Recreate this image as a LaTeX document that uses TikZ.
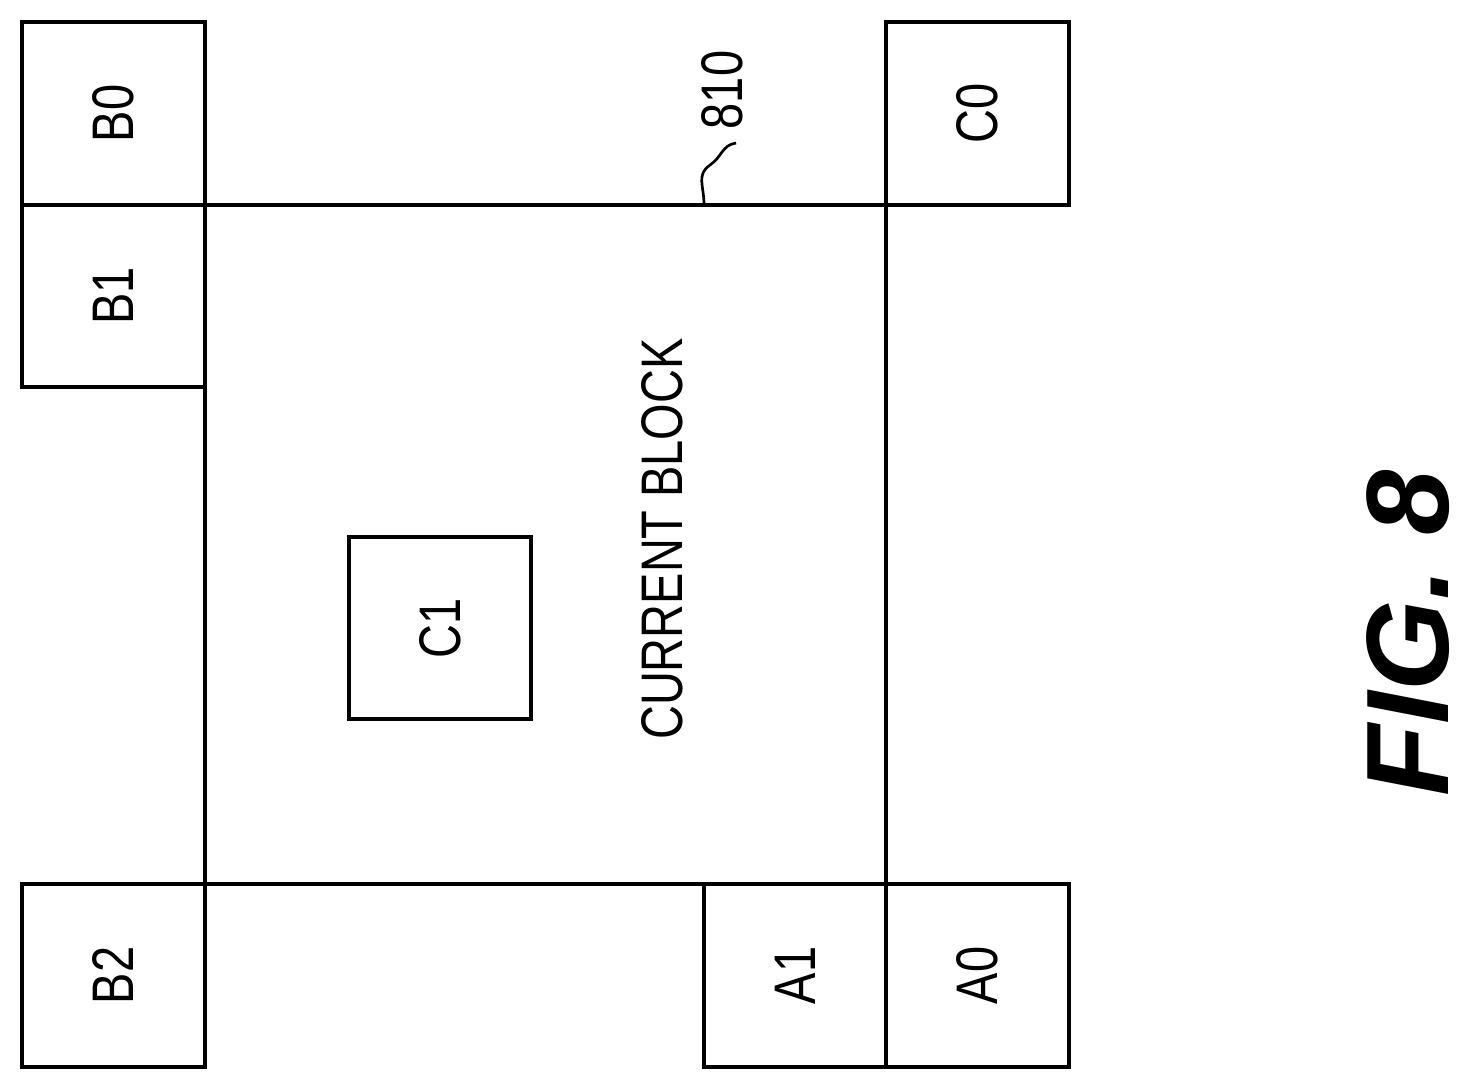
\documentclass[tikz,border=0pt]{standalone}
\usepackage{fontspec}
\setmainfont{Liberation Sans}
\begin{document}
\begin{tikzpicture}[x=0.75pt,y=-0.75pt,line width=2.4pt,
  lbl/.style={rotate=90,font=\fontsize{44}{48}\selectfont,inner sep=0pt}]
\useasboundingbox (0,0) rectangle (1477,1090);
\newcommand\lb[1]{\scalebox{0.8}[1]{#1}}
\draw (22,22) rectangle (205,205) node[midway,lbl] (b0) {\lb{B0}};
\draw (22,205) rectangle (205,387) node[midway,lbl] (b1) {\lb{B1}};
\draw (205,205) rectangle (886,884);
\draw (886,22) rectangle (1069,205) node[midway,lbl] (c0) {\lb{C0}};
\draw (22,884) rectangle (205,1067) node[midway,lbl] (b2) {\lb{B2}};
\draw (704,884) rectangle (886,1067) node[midway,lbl] (a1) {\lb{A1}};
\draw (886,884) rectangle (1069,1067) node[midway,lbl] (a0) {\lb{A0}};
\draw (349,537) rectangle (531,719) node[midway,lbl] (c1) {\lb{C1}};
\node[lbl] (cb) at (662,539) {\lb{CURRENT BLOCK}};
\node[lbl] (n810) at (722,90) {\lb{810}};
\draw[line width=2pt] (704,205) .. controls (704,185) and (696,175) .. (710,165)
  .. controls (722,157) and (722,145) .. (736,143);
\node[rotate=90,inner sep=0pt,font=\fontsize{88}{92}\selectfont\bfseries\itshape] (fig) at (1408,633) {FIG. 8};
\end{tikzpicture}
\end{document}
